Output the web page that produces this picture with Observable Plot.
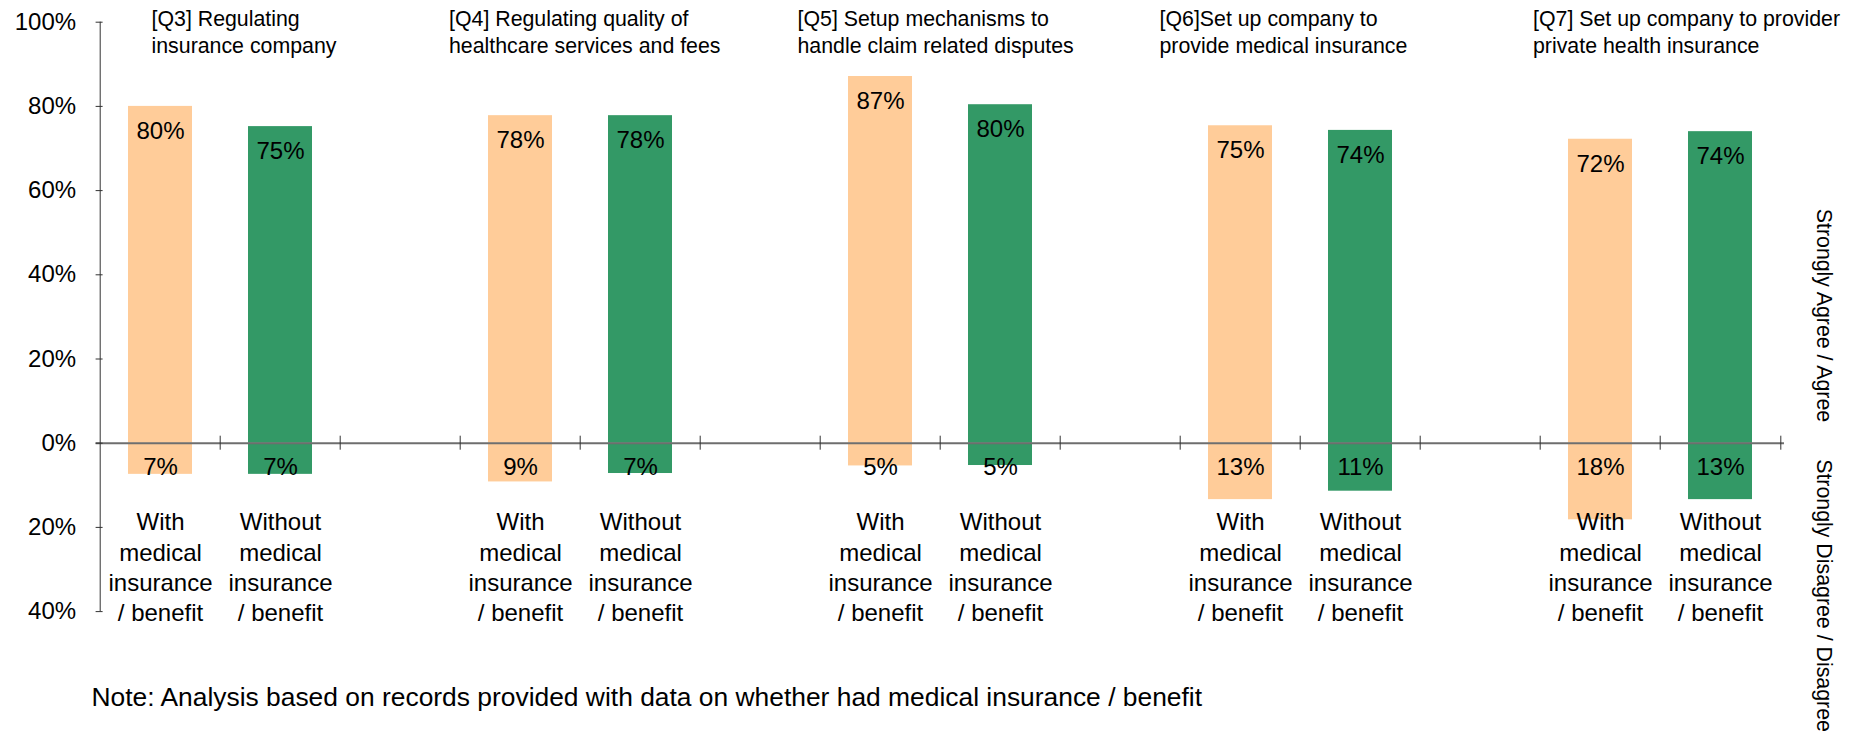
<!DOCTYPE html>
<html>
<head>
<meta charset="utf-8">
<script src="https://cdn.jsdelivr.net/npm/d3@7"></script>
<script src="https://cdn.jsdelivr.net/npm/@observablehq/plot@0.6"></script>
<style>
  html, body { margin: 0; padding: 0; background: #fff; }
  #chart svg { display: block; }
</style>
</head>
<body>
<div id="chart"></div>
<script>
// ---------- data ----------
const questions = [
  "[Q3] Regulating\ninsurance company",
  "[Q4] Regulating quality of\nhealthcare services and fees",
  "[Q5] Setup mechanisms to\nhandle claim related disputes",
  "[Q6]Set up company to\nprovide medical insurance",
  "[Q7] Set up company to provider\nprivate health insurance"
];
const groups = [
  "With\nmedical\ninsurance\n/ benefit",
  "Without\nmedical\ninsurance\n/ benefit"
];
const agreeWith      = [80.0, 77.8, 87.1, 75.4, 72.2];
const agreeWithout   = [75.2, 77.8, 80.4, 74.3, 74.0];
const disagreeWith   = [7.4, 9.2, 5.4, 13.4, 18.2];
const disagreeWithout= [7.4, 7.2, 5.3, 11.4, 13.4];
const yTicks = [100, 80, 60, 40, 20, 0, -20, -40];
const sideLabels = ["Strongly Agree / Agree", "Strongly Disagree / Disagree"];
const note = "Note: Analysis based on records provided with data on whether had medical insurance / benefit";

// ---------- layout / style ----------
const W = 1863, H = 733;
const mL = 95.6, mR = 79, mT = 21.7, mB = 121.9;
const FONT = "'Liberation Sans', Arial, Helvetica, sans-serif";
const FS_TITLE = 21.33;   // titles and side labels
const FS = 24;            // axis, value and category labels
const FS_NOTE = 26.4;
const colorWith = "#FFCC99", colorWithout = "#339966";
const titleDx = [-9, -71.5, -83, -81, -67.5];

// ---------- build table ----------
const slots = [];
const rows = [];
questions.forEach((q, i) => {
  slots.push(`${i}-0`, `${i}-1`);
  if (i < questions.length - 1) slots.push(`${i}-gap`);
  rows.push({slot: `${i}-0`, g: 0, agree: agreeWith[i], disagree: disagreeWith[i]});
  rows.push({slot: `${i}-1`, g: 1, agree: agreeWithout[i], disagree: disagreeWithout[i]});
});
const frameW = W - mL - mR;
const step = frameW / slots.length;
const pad = 0.47;
const pct = v => Math.round(v) + "%";

const marks = [
  // bars: agree (up) and disagree (down)
  Plot.barY(rows, {x: "slot", y1: 0, y2: "agree", fill: d => d.g ? colorWithout : colorWith}),
  Plot.barY(rows, {x: "slot", y1: 0, y2: d => -d.disagree, fill: d => d.g ? colorWithout : colorWith}),
  // zero line
  Plot.ruleY([0], {stroke: "#6e6e6e", strokeWidth: 2}),
  // category ticks on the zero line (between categories)
  Plot.ruleX(slots.slice(1), {x: d => d, y1: 0, y2: 0, insetTop: -7, insetBottom: -7, dx: -step / 2, stroke: "#333", strokeWidth: 1}),
  Plot.ruleX(slots.slice(-1), {x: d => d, y1: 0, y2: 0, insetTop: -7, insetBottom: -7, dx: step / 2, stroke: "#333", strokeWidth: 1}),
  // y-axis line and inside ticks
  Plot.ruleX(slots.slice(0, 1), {x: d => d, y1: yTicks[yTicks.length - 1], y2: yTicks[0], dx: -step / 2, stroke: "#333", strokeWidth: 1}),
  Plot.ruleY(yTicks, {y: d => d, insetRight: frameW - 7, stroke: "#333", strokeWidth: 1}),
  Plot.axisY({ticks: yTicks, tickFormat: d => Math.abs(d) + "%", tickSize: 0, tickPadding: 20, label: null, fontSize: FS, fill: "#000"}),
  // value labels
  Plot.text(rows, {x: "slot", y: "agree", text: d => pct(d.agree), dy: 25, fontSize: FS, fill: "#000"}),
  Plot.text(rows, {x: "slot", y: 0, text: d => pct(d.disagree), dy: 24, fontSize: FS, fill: "#000"}),
  // category labels
  Plot.text(rows, {x: "slot", text: d => groups[d.g], frameAnchor: "bottom", dy: -45.5, lineAnchor: "middle", lineHeight: 1.26, fontSize: FS, fill: "#000"}),
  // side labels
  Plot.text([sideLabels[0]], {y: 0, text: d => d, frameAnchor: "right", rotate: 90, textAnchor: "end", lineAnchor: "middle", dx: 39, dy: -21, fontSize: FS_TITLE, fill: "#000"}),
  Plot.text([sideLabels[1]], {y: 0, text: d => d, frameAnchor: "right", rotate: 90, textAnchor: "start", lineAnchor: "middle", dx: 39, dy: 16, fontSize: FS_TITLE, fill: "#000"}),
  // note
  Plot.text([note], {text: d => d, frameAnchor: "bottom-left", textAnchor: "start", lineAnchor: "middle", dx: -4.6, dy: 85.7, fontSize: FS_NOTE, fill: "#000"})
];
// question titles
questions.forEach((q, i) => {
  marks.push(Plot.text([q], {x: () => `${i}-0`, text: d => d, frameAnchor: "top", textAnchor: "start", lineAnchor: "middle", lineHeight: 27 / FS_TITLE, dx: titleDx[i], dy: 9.1, fontSize: FS_TITLE, fill: "#000"}));
});

const chart = Plot.plot({
  width: W,
  height: H,
  marginLeft: mL,
  marginRight: mR,
  marginTop: mT,
  marginBottom: mB,
  style: {fontFamily: FONT, fontSize: FS + "px", color: "#000", background: "#fff", overflow: "visible"},
  x: {type: "band", domain: slots, paddingInner: pad, paddingOuter: pad / 2, align: 0.5, axis: null},
  y: {domain: [-40, 100], axis: null},
  marks
});
document.getElementById("chart").appendChild(chart);
</script>
</body>
</html>
